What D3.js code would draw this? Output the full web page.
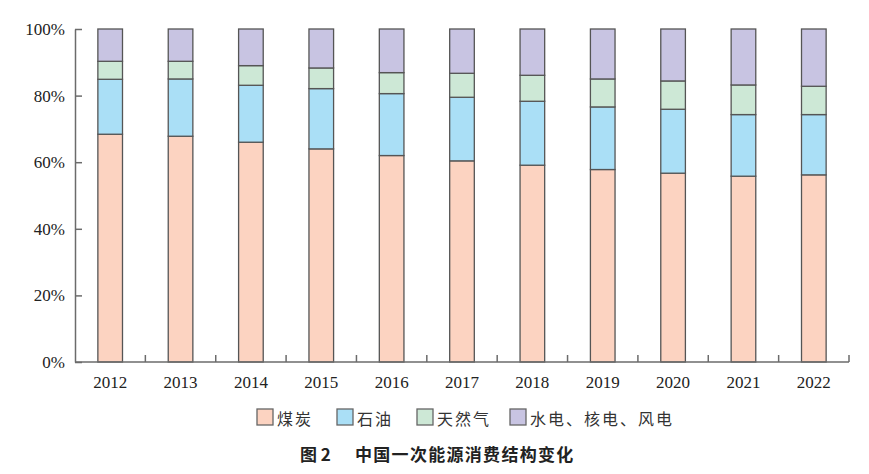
<!DOCTYPE html>
<html><head><meta charset="utf-8">
<script src="https://cdn.jsdelivr.net/npm/d3@7"></script>
<style>
html,body{margin:0;padding:0;background:#fff;}
svg{display:block;}
</style></head>
<body>
<svg id="c" width="869" height="474"></svg>
<script>
const years = ["2012","2013","2014","2015","2016","2017","2018","2019","2020","2021","2022"];
const coal  = [68.4, 67.8, 66.0, 64.0, 62.0, 60.4, 59.1, 57.8, 56.7, 55.8, 56.2];
const oil   = [16.5, 17.2, 17.1, 18.1, 18.6, 19.1, 19.2, 18.8, 19.2, 18.5, 18.1];
const gas   = [5.4, 5.3, 5.9, 6.2, 6.3, 7.2, 7.8, 8.4, 8.5, 8.9, 8.5];
const other = [9.7, 9.7, 11.0, 11.7, 13.1, 13.3, 13.9, 15.0, 15.6, 16.8, 17.2];
const seriesNames = ["煤炭", "石油", "天然气", "水电、核电、风电"];
const yTicks = [0, 20, 40, 60, 80, 100];
const titleLabel = "图 2";
const titleText = "中国一次能源消费结构变化";

const colors = ["#fcd3c1", "#aadff6", "#cde8d6", "#c8c4e2"];
const keys = ["coal","oil","gas","other"];
const rows = years.map((y,i)=>({year:y, coal:coal[i], oil:oil[i], gas:gas[i], other:other[i]}));

const svg = d3.select("#c");
const x = d3.scaleBand().domain(years).range([75, 849]).paddingInner(0.65).paddingOuter(0.325);
const y = d3.scaleLinear().domain([0,100]).range([362, 29]);

const stack = d3.stack().keys(keys)(rows);
const axisColor = "#6b6b6b";

svg.append("g").selectAll("g").data(stack).join("g")
  .attr("fill", (d,i)=>colors[i])
  .selectAll("rect").data(d=>d).join("rect")
  .attr("x", d=>x(d.data.year))
  .attr("width", x.bandwidth())
  .attr("y", d=>y(d[1]))
  .attr("height", d=>y(d[0])-y(d[1]))
  .attr("stroke", "#555")
  .attr("stroke-width", 1.3);

// y axis
const ya = svg.append("g").attr("transform","translate(75,0)")
  .call(d3.axisLeft(y).tickValues(yTicks).tickFormat(d=>d+"%").tickSizeInner(-7).tickSizeOuter(0).tickPadding(10));
ya.selectAll("path,line").attr("stroke", axisColor).attr("stroke-width", 1.5);
ya.selectAll("text").attr("font-family","'Liberation Serif', 'Times New Roman', serif").attr("font-size", 17).attr("fill","#222");

// x axis
const xg = svg.append("g");
xg.append("line").attr("x1", x.range()[0]).attr("x2", x.range()[1]).attr("y1", y(0)).attr("y2", y(0))
  .attr("stroke", axisColor).attr("stroke-width", 1.5);
const bounds = years.map(d=>x(d) + x.bandwidth()/2 + x.step()/2);
xg.selectAll("line.t").data(bounds).join("line").attr("class","t")
  .attr("x1", d=>d).attr("x2", d=>d).attr("y1", y(0)).attr("y2", y(0)-7)
  .attr("stroke", axisColor).attr("stroke-width", 1.5);
xg.selectAll("text").data(years).join("text")
  .attr("x", d=>x(d)+x.bandwidth()/2).attr("y", 388)
  .attr("text-anchor","middle")
  .attr("font-family","'Liberation Serif', 'Times New Roman', serif").attr("font-size", 17).attr("fill","#222")
  .text(d=>d);

// legend
const legX = [257, 337, 417, 510];
const lg = svg.append("g");
seriesNames.forEach((n,i)=>{
  lg.append("rect").attr("x", legX[i]).attr("y", 409).attr("width", 16).attr("height", 16)
    .attr("fill", colors[i]).attr("stroke", "#666").attr("stroke-width", 1.3);
  lg.append("text").attr("x", legX[i]+20).attr("y", 417.5).attr("dominant-baseline","central")
    .attr("font-family","'Noto Sans CJK SC', sans-serif").attr("font-size", 16).attr("letter-spacing", 2)
    .attr("fill","#333").text(n);
});

// title
svg.append("text").attr("x", 300).attr("y", 453).attr("dominant-baseline","central")
  .attr("font-family","'Noto Sans CJK SC', sans-serif").attr("font-weight","bold").attr("font-size", 17)
  .attr("fill","#222").text(titleLabel);
svg.append("text").attr("x", 355).attr("y", 453).attr("dominant-baseline","central")
  .attr("font-family","'Noto Sans CJK SC', sans-serif").attr("font-weight","bold").attr("font-size", 17)
  .attr("letter-spacing", 1.3).attr("fill","#222").text(titleText);
</script>
</body></html>
